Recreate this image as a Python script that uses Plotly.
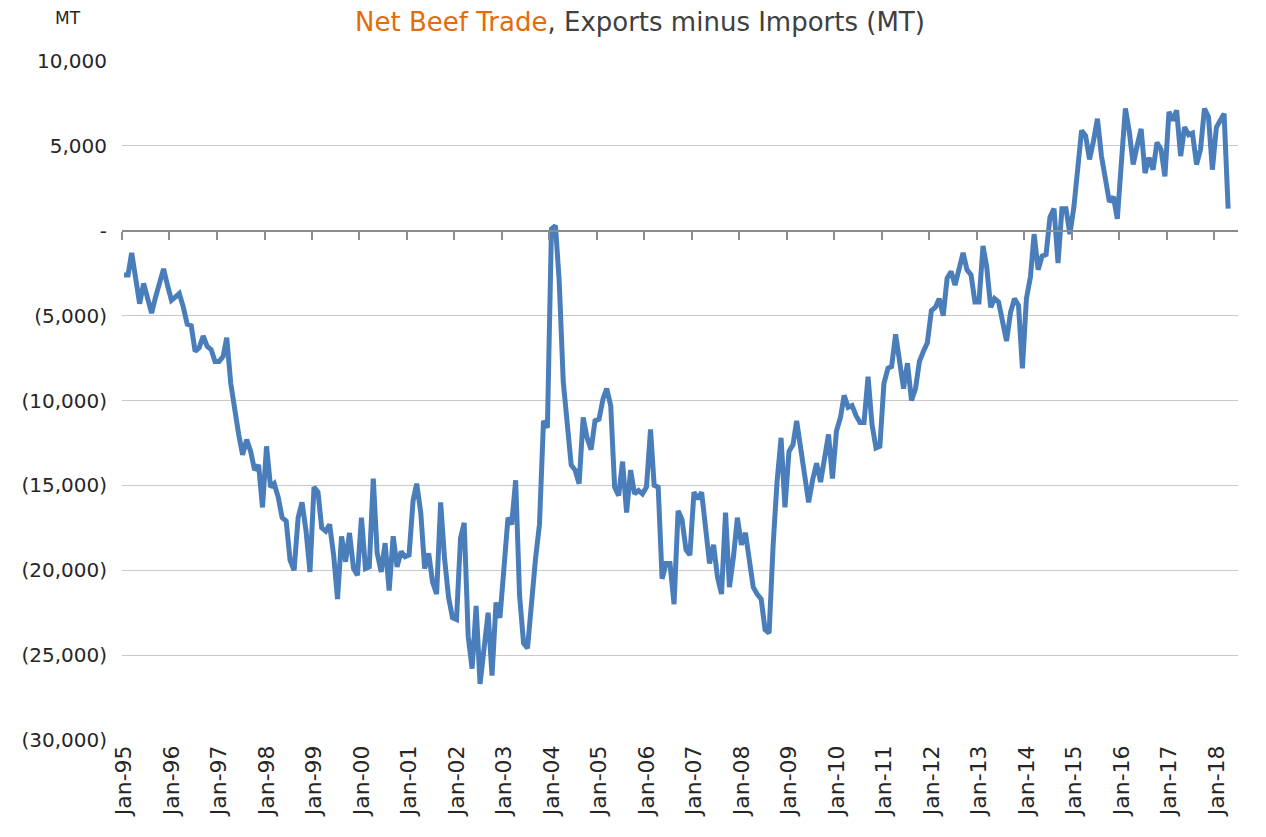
import pandas as pd
import plotly.graph_objects as go

# ---- data (MT, monthly, Jan-95 .. Apr-18) ----
start_month = "1995-01-01"
net_trade = [
    # 1995
    -2600, -2600, -1300, -2900, -4300, -3100, -4000, -4850, -3900, -3100, -2250, -3200,
    # 1996
    -4100, -3900, -3700, -4500, -5500, -5600, -7100, -6900, -6200, -6800, -7000, -7700,
    # 1997
    -7700, -7400, -6300, -9000, -10600, -12000, -13200, -12300, -13000, -14100, -13800, -16300,
    # 1998
    -12700, -15100, -14900, -15700, -16900, -17100, -19400, -20000, -16900, -16000, -17700, -20100,
    # 1999
    -15100, -15400, -17500, -17700, -17300, -19100, -21700, -18000, -19500, -17800, -19900, -20300,
    # 2000
    -16900, -19900, -19800, -14600, -19000, -20100, -18400, -21200, -18000, -19800, -18900, -19200,
    # 2001
    -19100, -15900, -14900, -16600, -19900, -19000, -20700, -21400, -16000, -19300, -21600, -22800,
    # 2002
    -22900, -18100, -17200, -23900, -25800, -22100, -26700, -24600, -22500, -26200, -21900, -22800,
    # 2003
    -20200, -16900, -17300, -14700, -21500, -24300, -24600, -21800, -19300, -17300, -11200, -11600,
    # 2004
    100, 300, -3000, -8900, -11400, -13800, -14100, -14900, -11000, -12200, -12900, -11200,
    # 2005
    -11100, -9900, -9300, -10300, -15100, -15600, -13600, -16600, -14100, -15500, -15300, -15500,
    # 2006
    -15100, -11700, -15000, -15100, -20500, -19600, -19600, -22000, -16500, -17000, -18800, -19100,
    # 2007
    -15400, -15800, -15400, -17900, -19600, -18500, -20400, -21400, -16600, -21000, -19200, -16900,
    # 2008
    -18500, -17800, -19600, -21000, -21400, -21700, -23500, -23700, -18500, -14800, -12200, -16300,
    # 2009
    -13000, -12600, -11200, -12800, -14500, -16000, -14700, -13700, -14800, -13400, -12000, -14600,
    # 2010
    -11800, -11000, -9700, -10400, -10300, -10900, -11300, -11300, -8600, -11400, -12800, -12700,
    # 2011
    -9000, -8100, -8000, -6100, -7700, -9300, -7800, -10000, -9300, -7700, -7100, -6600,
    # 2012
    -4700, -4500, -4000, -5000, -2800, -2400, -3200, -2300, -1300, -2300, -2600, -4200,
    # 2013
    -4200, -900, -2100, -4500, -4000, -4200, -5200, -6500, -4800, -4000, -4400, -8100,
    # 2014
    -4000, -2700, -200, -2300, -1500, -1400, 800, 1300, -1900, 1300, 1300, -200,
    # 2015
    1400, 3900, 5900, 5600, 4200, 5300, 6600, 4400, 2800, 1700, 2000, 700,
    # 2016
    4000, 7200, 5900, 3900, 5000, 6000, 3400, 4300, 3600, 5200, 4800, 3200,
    # 2017
    7000, 6500, 7100, 4400, 6100, 5650, 5750, 3900, 4800, 7200, 6700, 3600,
    # 2018
    6100, 6600, 6900, 1300,
]

y_tick_values = [10000, 5000, 0, -5000, -10000, -15000, -20000, -25000, -30000]
y_tick_labels = ["10,000", "5,000", "-", "(5,000)", "(10,000)", "(15,000)",
                 "(20,000)", "(25,000)", "(30,000)"]

title_highlight = "Net Beef Trade"
title_rest = ", Exports minus Imports (MT)"
unit_label = "MT"

months = pd.date_range(start_month, periods=len(net_trade), freq="MS")
year_starts = pd.date_range("1995-01-01", "2018-01-01", freq="YS")
x_tick_labels = [d.strftime("%b-%y") for d in year_starts]
# category boundaries (tick marks sit between Dec and Jan)
boundary_ticks = [d - pd.Timedelta(days=15.5) for d in year_starts]
x_range = [pd.Timestamp("1994-12-16 12:00"), pd.Timestamp("2018-06-16")]

FONT = "DejaVu Sans"
TEXT = "#262626"
W, H = 1250, 821  # page adds an 8px body margin

fig = go.Figure()
fig.add_trace(go.Scatter(
    x=months, y=net_trade, mode="lines",
    line=dict(color="#4A7EBB", width=5),
    hoverinfo="x+y", showlegend=False,
))
# empty trace to drive the zero-line axis with tick marks
fig.add_trace(go.Scatter(x=[], y=[], xaxis="x2", yaxis="y", showlegend=False))

fig.update_layout(
    width=W, height=H,
    margin=dict(l=114, r=20, t=53, b=84),
    paper_bgcolor="white", plot_bgcolor="white",
    font=dict(family=FONT, color=TEXT, size=19),
    title=dict(
        text=f"<span style='color:#E36C09'>{title_highlight}</span>{title_rest}",
        x=(640 - 8) / W, xref="container", xanchor="center",
        y=1 - 14 / H, yref="container", yanchor="middle",
        font=dict(family=FONT, size=26, color="#404040"),
    ),
    xaxis=dict(
        type="date", range=x_range,
        tickvals=list(year_starts), ticktext=x_tick_labels,
        tickangle=-90, showgrid=False, showline=False, ticks="",
        zeroline=False, tickfont=dict(size=22, color=TEXT),
    ),
    xaxis2=dict(
        type="date", range=x_range, overlaying="x", anchor="free",
        position=0.75, side="bottom",
        tickvals=boundary_ticks, showticklabels=False,
        ticks="outside", ticklen=8, tickwidth=1.5, tickcolor="#8c8c8c",
        showline=True, linecolor="#8c8c8c", linewidth=1.5,
        showgrid=False, zeroline=False,
    ),
    yaxis=dict(
        range=[-30000, 10000], tickvals=y_tick_values, ticktext=y_tick_labels,
        showgrid=True, gridcolor="#c9c9c9", gridwidth=1.3,
        zeroline=False, showline=False, ticks="",
        ticklabelstandoff=14, tickfont=dict(size=20, color=TEXT),
    ),
    annotations=[dict(
        text=unit_label, xref="paper", yref="paper",
        x=(68 - 122) / 1116, y=(745 - 18) / 684,
        xanchor="center", yanchor="middle", showarrow=False,
        font=dict(family=FONT, size=17, color=TEXT),
    )],
)

fig.write_html("out.html")
